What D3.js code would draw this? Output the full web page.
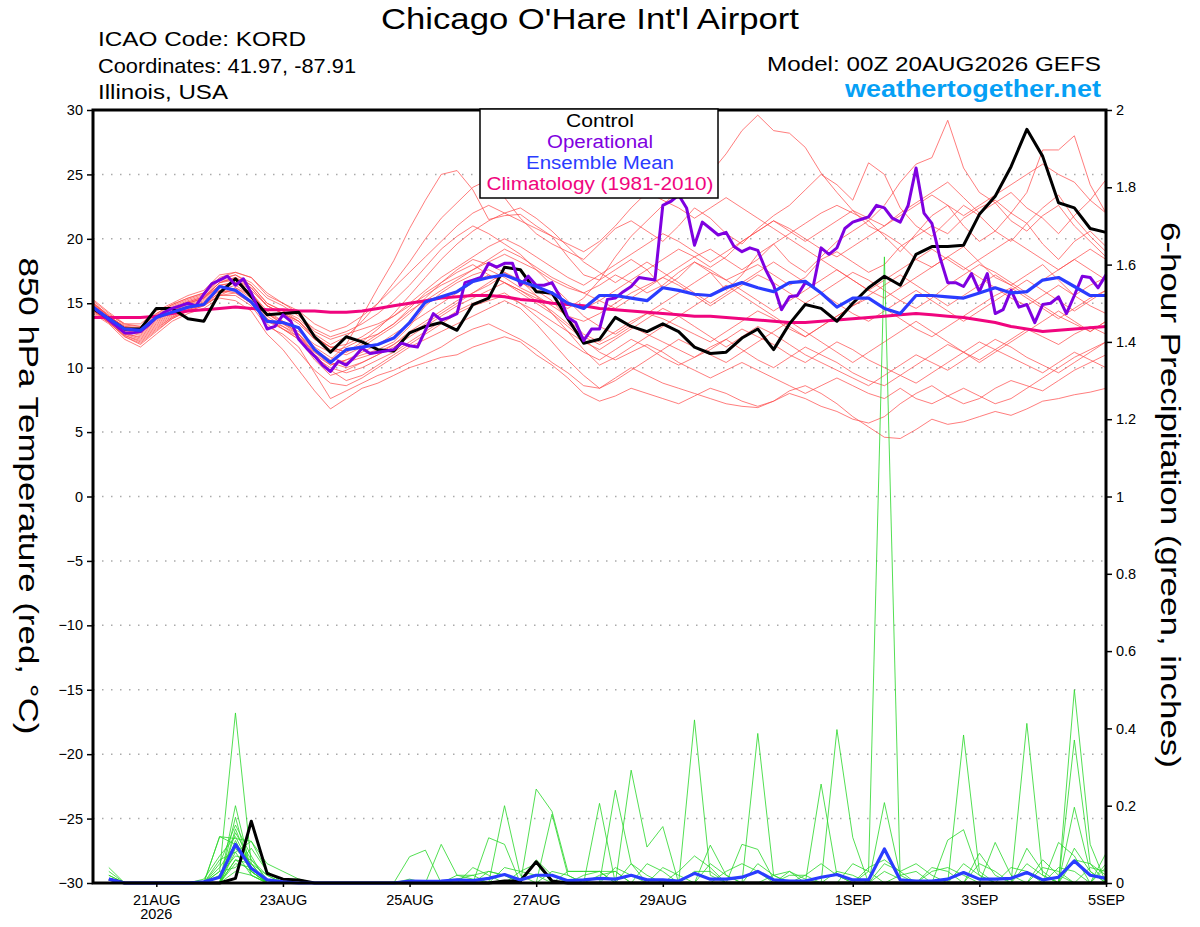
<!DOCTYPE html>
<html>
<head>
<meta charset="utf-8">
<script src="https://cdn.jsdelivr.net/npm/d3@7"></script>
<style>
body { margin: 0; background: #fff; }
svg { display: block; font-family: "Liberation Sans", Arial, Helvetica, sans-serif; }
</style>
</head>
<body>
<svg id="chart" width="1200" height="927"></svg>
<script>
// ---- data (6-hourly from 00Z 20AUG2026, operational is 3-hourly) ----
let tickHours = [24, 72, 120, 168, 216, 288, 336, 384]
let tickLabels = ['21AUG', '23AUG', '25AUG', '27AUG', '29AUG', '1SEP', '3SEP', '5SEP']
let tempTicks = [-30, -25, -20, -15, -10, -5, 0, 5, 10, 15, 20, 25, 30]
let precipTicks = [0, 0.2, 0.4, 0.6, 0.8, 1, 1.2, 1.4, 1.6, 1.8, 2]

let controlTemp = [14.6,13.8,13.0,13.0,14.6,14.6,13.8,13.6,15.8,16.9,15.5,14.1,14.2,14.3,12.4,11.2,12.4,12.0,11.4,11.3,
  12.7,13.2,13.5,12.9,14.9,15.4,17.8,17.6,15.9,15.8,13.8,11.9,12.2,13.9,13.2,12.8,13.4,12.8,11.6,11.1,
  11.2,12.3,13.0,11.4,13.4,14.9,14.6,13.6,15.0,16.2,17.1,16.4,18.8,19.4,19.4,19.5,21.9,23.3,25.6,28.5,
  26.4,22.8,22.4,20.8,20.5]

let operationalTemp = [14.7,14.2,13.7,13.2,12.7,12.7,12.8,13.3,13.9,14.3,14.6,14.8,15.0,14.8,15.7,16.5,16.8,17.1,16.4,16.9,
  15.8,14.4,13.0,13.2,14.1,13.6,12.2,11.5,10.9,10.2,9.7,10.5,10.2,10.8,11.5,11.1,11.2,11.3,11.4,11.9,
  11.7,11.6,12.9,14.2,13.7,13.9,14.2,16.6,16.8,17.0,18.1,17.8,18.1,18.1,16.4,17.1,16.4,16.4,16.6,15.5,
  13.9,13.5,12.1,13.0,13.0,15.3,15.4,15.9,16.3,17.0,16.9,16.8,22.6,22.9,23.4,22.4,19.5,21.3,20.8,20.3,
  20.5,19.4,19.0,19.3,19.1,17.6,16.4,14.5,15.5,15.6,16.6,16.3,19.3,18.8,19.3,20.8,21.3,21.5,21.7,22.6,
  22.4,21.6,21.3,22.6,25.5,22.0,21.2,18.6,16.6,16.6,16.3,17.3,15.9,17.3,14.2,14.5,16.0,14.7,14.9,13.5,
  14.9,15.0,15.5,14.2,15.6,17.1,17.0,16.2,17.2]

let meanTemp = [14.7,13.8,13.0,12.9,13.9,14.3,14.7,14.9,16.3,16.0,15.1,13.6,13.5,13.1,11.4,10.4,11.4,11.6,11.8,12.3,
  13.5,15.1,15.5,15.9,16.7,17.0,17.2,16.7,16.3,15.8,15.0,14.6,15.6,15.6,15.4,15.2,16.2,16.0,15.7,15.6,
  16.2,16.6,16.2,15.9,16.6,16.7,15.8,14.7,15.4,15.4,14.6,14.2,15.6,15.6,15.5,15.4,15.8,16.2,15.8,15.9,
  16.8,17.0,16.3,15.6,15.6]

let climatologyTemp = [13.9,13.9,13.9,13.9,14.0,14.2,14.4,14.5,14.6,14.7,14.6,14.5,14.5,14.4,14.4,14.3,14.3,14.4,14.6,14.8,
  15.0,15.2,15.4,15.5,15.6,15.6,15.5,15.3,15.2,15.0,14.9,14.8,14.6,14.5,14.4,14.3,14.2,14.1,14.0,14.0,
  13.9,13.8,13.7,13.6,13.5,13.5,13.6,13.7,13.8,13.9,14.0,14.1,14.2,14.1,14.0,13.9,13.7,13.5,13.2,13.0,
  12.8,12.9,13.0,13.1,13.2]

let memberTemps = [
  [14.8,13.9,13.0,12.8,13.8,14.4,15.0,15.4,16.4,16.6,15.8,14.4,13.6,12.6, 11.4,10.6,11.8,14.0,16.2,18.3,20.8,23.0,25.0,25.3,23.8,21.5,21.8,21.9,21.0,20.2,18.6, 17.2,16.8,17.6,18.4,17.6,16.2,17.0,18.2,17.4,16.0,17.2,18.8,19.6,18.2,17.4,18.6,19.8, 20.6,21.4,20.2,19.0,20.4,21.8,22.6,21.0,19.8,20.6,22.0,21.2,19.6,18.4,19.8,20.6,19.4],
  [14.6,13.6,12.6,12.4,13.4,14.2,14.6,15.0,16.0,16.4,15.6,14.2,13.4,12.8, 11.8,11.2,11.6,12.2,12.6,13.4,14.6,15.8,16.6,17.4,18.0,17.2,16.6,16.0,15.4,15.0,14.6, 15.4,16.8,18.6,20.2,21.4,22.6,23.8,24.6,25.1,26.6,28.4,29.6,28.4,28.2,27.1,25.1,23.6, 22.2,21.0,20.4,19.6,18.4,17.8,18.6,19.4,18.2,17.0,16.4,17.2,18.0,16.8,15.6,16.4,17.0],
  [14.9,13.9,12.9,12.6,13.6,14.4,15.0,15.4,16.4,16.0,15.0,13.6,13.2,12.6, 11.0,10.2,10.6,11.0,11.4,12.0,13.2,14.8,15.8,16.6,17.2,17.6,17.0,16.2,15.6,14.8,14.0, 13.6,14.2,15.0,15.8,16.4,17.0,17.8,18.6,19.2,18.4,17.6,18.4,19.6,20.4,21.2,22.0,22.6, 22.0,21.4,22.6,24.4,25.8,26.3,29.2,25.5,23.6,22.8,21.4,20.6,21.8,22.6,21.0,19.8,18.6],
  [15.0,14.1,13.4,13.4,14.4,15.0,15.6,16.0,17.2,17.4,17.0,15.8,15.0,14.2, 12.8,12.2,12.6,13.0,13.4,14.0,14.8,15.6,16.4,17.0,17.6,18.4,19.2,18.6,17.8,17.0,16.4, 15.8,16.4,17.2,16.6,15.8,16.4,17.4,18.2,17.6,16.8,17.4,18.0,17.2,16.4,17.0,18.4,19.0, 18.2,17.4,18.0,19.4,20.2,21.0,20.4,21.6,22.4,23.0,22.0,23.6,26.9,26.9,28.0,24.2,22.0],
  [14.2,13.4,12.2,11.6,12.6,13.6,14.2,14.6,15.4,15.2,14.4,12.6,11.4,9.8, 8.2,6.8,7.6,8.4,8.8,9.4,10.0,10.4,10.8,11.0,11.6,12.0,12.4,12.0,11.0,10.2,9.2, 8.0,7.4,7.8,8.4,8.0,7.6,7.2,7.8,8.4,8.0,7.4,7.0,7.4,8.2,8.6,8.0,7.2, 6.2,5.4,4.6,4.5,5.2,6.0,5.6,5.8,6.2,6.6,6.3,6.8,7.4,7.6,7.9,8.1,8.4],
  [14.5,13.5,12.4,11.9,12.9,13.8,14.4,14.8,15.6,15.6,14.8,13.2,12.6,11.6, 9.6,7.6,8.2,8.8,9.4,9.8,10.4,11.0,11.6,12.4,13.0,13.4,12.8,12.2,11.4,10.4,9.6, 8.6,8.4,9.2,10.0,9.4,8.8,8.4,8.0,7.6,7.2,7.0,6.9,7.4,8.0,7.6,7.0,6.6, 6.0,5.7,6.2,7.2,8.0,8.6,7.8,7.2,7.6,8.4,9.0,8.6,8.2,9.0,9.8,10.4,11.0],
  [15.1,14.0,13.1,12.9,13.9,14.6,15.1,15.5,16.6,17.0,16.4,15.0,14.4,13.8, 12.6,11.8,12.4,13.6,15.0,16.6,18.2,20.0,21.6,22.8,24.0,24.6,23.2,21.6,20.4,19.6,19.0, 18.4,19.6,20.8,21.4,20.6,19.8,21.0,22.4,21.6,20.4,19.6,20.8,21.8,22.6,23.8,25.0,24.2, 23.0,25.9,25.0,22.4,21.0,20.2,21.4,22.6,21.8,20.6,19.8,21.2,22.4,23.4,21.6,20.2,19.0],
  [14.7,13.8,12.8,12.5,13.5,14.3,14.8,15.2,16.2,16.6,15.8,14.2,13.6,13.0, 11.6,10.8,10.4,10.8,11.2,11.8,12.8,13.6,14.4,15.2,15.8,16.4,17.2,16.8,16.0,15.2,13.8, 12.6,12.0,12.8,13.6,14.2,13.8,13.2,12.6,12.0,12.8,13.6,14.4,13.8,13.0,12.4,13.2,14.0, 14.8,15.4,14.6,13.8,13.0,12.4,13.2,14.0,14.8,15.6,16.2,15.4,14.6,13.8,14.6,15.4,16.0],
  [15.3,14.3,13.4,13.2,14.2,14.9,15.4,15.8,16.8,16.8,16.0,14.8,14.2,13.6, 12.2,11.4,11.0,11.6,12.4,13.2,14.2,15.4,16.6,17.6,18.4,18.0,17.4,16.6,16.0,15.6,15.0, 14.6,15.2,16.0,16.8,17.6,18.4,19.2,18.6,17.8,18.6,19.8,20.6,21.4,20.8,20.0,19.2,18.6, 19.4,20.2,21.0,22.0,22.8,23.6,24.4,23.2,22.0,22.8,23.6,22.4,21.6,20.4,21.8,23.0,24.6],
  [14.4,13.6,12.6,12.2,13.2,14.0,14.6,15.0,15.8,16.0,15.2,13.6,13.0,12.2, 10.8,10.0,9.6,10.0,10.6,11.2,12.0,12.8,13.6,14.4,15.0,15.4,15.8,15.0,14.0,13.0,12.0, 11.2,10.6,11.4,12.2,11.6,10.8,10.2,10.8,11.6,12.2,11.4,10.6,10.0,10.8,11.6,11.0,10.4, 9.6,9.0,8.6,9.4,10.2,11.0,11.8,11.2,10.6,11.4,12.2,13.0,12.4,11.8,12.6,13.2,12.6],
  [14.8,13.8,13.0,12.9,13.9,14.5,15.0,15.4,16.6,16.8,16.2,14.8,14.2,13.4, 12.2,11.6,11.2,11.8,12.6,13.4,14.4,15.2,16.0,16.8,17.6,18.2,18.8,18.2,17.6,16.8,16.2, 15.8,15.2,14.6,15.4,16.2,17.0,16.4,15.6,14.8,15.6,16.4,17.2,16.6,15.8,15.0,15.8,16.6, 17.4,16.8,16.0,15.2,14.6,15.4,16.4,17.2,18.0,17.4,16.6,15.8,16.8,17.6,18.4,17.6,16.8],
  [14.3,13.5,12.4,11.8,12.8,13.8,14.4,14.8,15.6,16.2,15.6,14.0,13.2,12.4, 11.0,9.8,9.0,9.4,10.2,11.0,11.8,12.6,13.4,14.2,14.8,15.2,15.6,15.0,14.4,13.6,12.8, 12.0,11.4,12.2,13.0,13.8,14.6,14.0,13.2,12.4,11.6,12.4,13.2,12.6,11.8,11.0,10.4,9.8, 9.2,8.6,9.4,10.2,11.0,10.4,9.8,10.6,11.4,12.2,11.6,10.8,10.2,9.6,10.4,11.2,12.0],
  [15.0,14.0,13.2,13.1,14.1,14.8,15.3,15.7,16.9,17.2,16.6,15.4,14.8,14.0, 13.0,12.4,12.8,13.4,14.2,15.2,16.4,17.8,19.2,20.2,21.0,20.4,19.6,18.8,17.6,16.4,15.2, 14.0,13.2,12.6,13.4,14.2,15.0,15.8,16.6,17.4,16.8,16.0,15.2,14.4,15.2,16.0,16.8,17.6, 16.8,16.0,15.4,16.2,17.0,17.8,18.6,17.8,17.0,16.2,15.4,14.8,15.6,16.4,15.6,14.8,14.2],
  [14.6,13.7,12.7,12.3,13.3,14.1,14.7,15.1,16.0,15.8,15.0,13.8,13.0,12.4, 11.2,10.4,10.0,10.4,11.0,11.6,12.4,13.2,14.0,14.8,15.4,16.0,16.6,16.0,15.2,14.4,13.4, 12.4,11.8,12.4,13.2,12.6,12.0,11.4,10.8,11.4,12.2,13.0,12.4,11.8,11.0,10.4,11.2,12.0, 11.4,10.6,10.0,9.4,8.8,9.6,10.4,11.2,12.0,11.4,10.8,10.2,9.6,10.4,11.2,10.6,10.0],
  [15.0,14.0,13.2,13.0,14.0,14.7,15.2,15.6,16.8,17.2,16.4,15.0,14.4,13.6, 12.4,11.6,11.8,12.4,13.2,14.0,15.0,16.0,17.0,17.8,18.6,19.4,20.0,19.4,18.6,17.8,17.0, 16.4,17.2,18.0,18.8,19.6,20.4,19.8,19.0,18.2,19.0,19.8,20.6,21.4,20.6,19.8,20.6,21.4, 22.2,21.6,21.0,21.8,22.6,23.4,22.6,21.8,22.6,23.4,24.2,25.0,25.8,25.0,24.4,23.0,22.0],
  [14.5,13.5,12.5,12.1,13.1,13.9,14.5,14.9,15.8,16.2,15.4,13.8,13.0,12.2, 10.6,9.4,9.8,10.4,11.0,11.8,12.6,13.4,14.2,15.0,15.8,16.6,17.4,16.8,15.6,14.2,12.8, 11.4,10.2,10.8,11.6,12.4,13.2,14.0,14.8,15.6,16.4,15.6,14.8,14.0,13.2,12.4,13.2,14.0, 14.8,15.6,16.4,17.2,16.4,15.6,14.8,15.6,16.4,17.2,16.4,15.6,14.8,14.0,13.4,12.8,13.6],
  [15.2,14.2,13.3,13.2,14.2,14.9,15.4,15.8,17.0,17.4,17.0,15.6,15.0,14.4, 13.4,12.8,13.2,14.0,15.0,16.2,17.4,18.6,19.8,21.0,22.0,22.6,22.0,21.4,20.8,20.2,19.6, 19.0,19.8,21.0,22.4,23.6,23.0,22.4,21.6,22.4,23.2,22.4,21.6,20.8,20.0,19.2,18.4,17.6, 16.8,16.0,16.8,17.6,18.4,19.2,18.4,17.6,18.4,19.2,20.0,19.2,18.4,17.6,18.4,19.2,18.4],
  [14.7,13.8,12.9,12.7,13.7,14.4,14.9,15.3,16.4,16.6,15.8,14.2,13.4,12.6, 11.2,10.2,10.6,11.2,11.8,12.6,13.4,14.2,15.0,15.8,16.6,17.2,16.6,15.8,15.0,14.2,13.2, 12.2,11.2,10.6,11.2,11.8,11.2,10.4,9.8,9.2,9.8,10.4,9.8,9.2,8.6,8.0,8.6,9.2, 8.6,8.0,7.6,8.4,7.6,7.2,7.8,8.4,7.8,7.2,7.6,8.4,9.2,10.0,10.8,11.4,12.0],
  [14.9,14.0,13.1,12.9,13.9,14.6,15.1,15.5,16.6,17.0,16.2,14.8,14.2,13.6, 12.4,11.6,11.2,12.0,13.0,14.2,15.6,17.0,18.4,19.6,20.6,21.4,22.0,22.4,21.6,20.6,19.4, 18.2,17.4,16.6,17.4,18.2,17.4,16.6,15.8,15.0,15.8,16.6,17.4,18.2,17.4,16.6,15.8,15.0, 14.2,13.6,14.4,15.2,16.0,15.2,14.4,13.6,14.4,15.2,16.0,16.8,16.0,15.2,14.4,15.2,16.0],
  [14.4,13.5,12.5,12.0,13.0,13.9,14.5,14.9,15.6,15.8,15.0,13.4,12.4,11.2, 9.8,8.8,8.6,9.2,10.0,10.8,11.6,12.2,12.8,13.4,14.0,14.6,15.2,14.6,13.4,12.0,10.6, 9.4,8.4,9.0,9.8,10.6,11.4,12.2,11.6,11.0,10.4,11.2,12.0,12.8,13.6,12.8,12.0,11.2, 10.4,11.2,12.0,12.8,13.6,12.8,12.0,11.2,10.4,11.2,12.0,12.8,13.6,14.4,13.6,12.8,13.6]
]

// 6-hour precipitation, first value is for 06Z 20AUG
let controlPrecip = [.01,0,0,0,0,0,0,0, .012,.16,.025,.01,.008,0,0,0, 0,0,0,0,0,0,0,0, 0,.005,.005,.055,.005,0,0,0,
  0,0,0,0,0,0,0,0, 0,0,0,0,0,0,0,0, 0,0,0,0,0,0,0,0, 0,0,0,0,0,0,0,0]

let meanPrecip = [.01,0,0,0,0,0,.003,.015, .10,.038,.008,.003,0,0,0,0, 0,0,0,.005,.004,.005,.008,.006, .012,.022,.008,.02,.02,.006,.008,.012,
  .01,.02,.008,.008,.005,.025,.01,.01, .015,.03,.008,.005,.005,.015,.022,.008, .008,.088,.008,.005,.005,.01,.027,.01, .01,.012,.027,.008,.015,.057,.02,.012]

let memberPrecips = [
  [.04,0,0,0,0,0,0,.03, .44,.05,0,0,0,0,0,0, 0,0,0,0,0,0,0,0, 0,0,0,0,0,0,0,0, .24,.05,0,0,0,0,0,0, 0,0,0,0,0,0,0,0, 0,0,0,0,0,0,0,0, 0,0,0,0,0,.5,.1,0],
  [.03,0,0,0,0,0,0,0, .2,.03,0,0,0,0,0,0, 0,0,0,0,0,0,0,0, 0,0,0,.243,.185,.03,.03,.03, 0,0,0,0,0,.422,.02,0, 0,0,0,0,0,0,0,0, 0,0,0,0,0,0,.383,.03, 0,0,0,0,0,0,0,0],
  [.02,0,0,0,0,0,0,.12, .115,.108,.05,.03,.01,0,0,0, 0,0,0,0,0,0,0,0, 0,0,0,0,0,0,0,0, 0,0,0,0,0,0,0,0, 0,.387,.02,0,0,0,0,0, 0,0,0,0,0,0,0,0, 0,0,.413,.02,0,0,0,0],
  [0,0,0,0,0,0,0,0, .17,.02,0,0,0,0,0,0, 0,0,0,0,0,0,0,0, 0,.2,.02,0,0,0,0,0, 0,.292,.093,.146,0,0,0,0, 0,0,0,0,0,0,.397,.118, 0,0,0,0,0,0,0,0, 0,0,0,0,0,0,0,0],
  [0,0,0,0,0,0,0,.05, .15,.07,0,0,0,0,0,0, 0,0,0,0,0,0,0,0, 0,0,0,0,.178,.02,0,.206, 0,0,0,0,0,0,0,0, 0,0,0,0,0,0,0,0, .03,1.62,.01,0,0,0,0,0, 0,0,0,0,0,.37,.05,0],
  [0,0,0,0,0,0,.01,.07, .12,.04,0,0,0,0,0,0, 0,0,0,0,0,0,0,0, .117,.1,0,0,0,0,0,0, 0,0,0,0,0,0,0,0, 0,0,0,0,0,.256,.02,0, 0,0,0,0,0,0,0,0, 0,0,0,0,0,0,0,.077],
  [0,0,0,0,0,0,0,.12, .1,.03,0,0,0,0,0,0, 0,0,0,.068,.085,0,0,0, 0,0,0,0,0,0,0,0, 0,0,0,0,0,0,.098,.02, 0,0,0,0,0,0,0,0, 0,.208,.02,0,0,0,0,0, 0,0,0,0,0,.196,.03,0],
  [0,0,0,0,0,0,0,0, .08,.108,.03,0,0,0,0,0, 0,0,0,0,0,.1,.02,.02, 0,0,0,0,0,0,0,0, 0,0,0,0,0,0,0,0, .1,.087,.01,0,0,0,0,0, 0,0,0,0,0,.111,.138,.02, 0,0,0,0,0,0,0,0],
  [0,0,0,0,0,0,0,0, .06,.05,.02,0,0,0,0,0, 0,0,0,0,0,0,0,.04, .02,0,0,0,0,0,0,0, 0,0,.05,.03,0,0,0,0, 0,0,0,0,0,0,0,0, 0,0,0,0,0,0,0,0, .105,.02,0,0,.105,.07,0,0],
  [0,0,0,0,0,0,0,.04, .1,.05,0,0,0,0,0,0, 0,0,0,0,0,0,0,0, 0,0,0,0,0,.03,.03,.03, .03,0,0,0,0,0,0,0, 0,0,0,0,0,0,0,0, 0,0,0,0,0,0,0,.077, .02,0,.09,.03,0,0,0,0],
  [0,0,0,0,0,0,0,0, .09,.04,0,0,0,0,0,0, 0,0,0,0,0,0,0,0, 0,.04,.03,.05,0,0,0,0, 0,0,0,0,0,0,0,0, 0,0,0,.03,.01,0,0,0, 0,.05,.03,.05,.02,0,0,0, 0,0,0,0,0,0,0,.05],
  [0,0,0,0,0,0,0,.02, .07,.06,.01,0,0,0,0,0, 0,0,0,0,0,0,0,0, 0,0,0,0,0,0,0,0, 0,0,0,0,.03,.07,.04,0, 0,0,0,0,0,0,0,.05, .03,0,0,0,0,0,0,0, 0,0,0,.04,.03,0,0,0],
  [0,0,0,0,0,0,0,0, .05,.04,0,0,0,0,0,0, 0,0,0,0,0,0,0,0, 0,0,.03,.02,0,0,0,0, 0,0,0,0,0,0,0,.03, .05,.03,0,0,0,0,0,0, 0,0,0,0,.03,.04,.02,0, 0,0,0,0,0,0,.04,.03],
  [0,0,0,0,0,0,0,0, .13,.06,.02,0,0,0,0,0, 0,0,0,0,0,0,.01,.02, .03,.02,0,0,0,0,0,0, 0,.05,.02,0,0,0,0,0, 0,0,0,0,.02,.05,.02,0, 0,0,0,0,0,0,0,0, 0,.04,.03,0,0,0,0,0],
  [0,0,0,0,0,0,0,.03, .04,.09,.03,0,0,0,0,0, 0,0,0,0,0,0,0,0, 0,0,0,0,0,0,0,.02, .03,0,0,0,0,0,0,0, 0,0,.02,.03,0,0,0,0, 0,0,.02,.03,0,0,0,0, 0,0,0,0,0,.06,.05,.02],
  [0,0,0,0,0,0,0,0, .06,.03,0,0,0,0,0,0, 0,0,0,0,0,0,0,0, 0,0,0,0,.03,.02,0,0, 0,0,0,.04,.02,0,0,0, 0,0,0,0,0,0,0,0, .04,.06,.03,0,0,0,0,.05, .03,0,0,0,0,0,0,0],
  [.02,0,0,0,0,0,0,0, .11,.03,0,0,0,0,0,0, 0,0,0,0,0,0,0,0, .03,.02,0,0,0,0,0,0, 0,0,0,0,0,.03,.03,0, 0,0,0,0,0,0,.03,.02, 0,0,0,0,0,0,0,0, 0,0,0,.06,.02,0,0,0],
  [0,0,0,0,0,0,0,.06, .08,.02,0,0,0,0,0,0, 0,0,0,.01,0,0,0,0, 0,0,0,.06,.02,0,0,0, 0,0,0,0,0,0,0,0, 0,.05,.02,0,0,0,0,0, 0,0,0,0,0,0,.05,.02, 0,0,0,0,0,.09,.03,0],
  [0,0,0,0,0,0,0,0, .14,.04,0,0,0,0,0,0, 0,0,0,0,0,0,0,0, 0,0,0,0,0,0,.02,.03, 0,0,0,0,0,0,.05,.02, 0,0,0,0,0,0,0,0, 0,.03,.01,0,0,0,0,0, 0,0,.05,.02,0,0,0,.04],
  [0,0,0,0,0,0,0,0, .03,.02,0,0,0,0,0,0, 0,0,0,0,0,0,.02,.01, 0,0,0,0,0,0,0,0, .04,.02,0,0,0,0,0,0, 0,0,0,.02,.02,0,0,0, 0,0,0,0,.04,.03,0,0, 0,0,0,0,.04,.03,0,0]
]

let legendItems = ['Control', 'Operational', 'Ensemble Mean', 'Climatology (1981-2010)']
let legendColors = ['#000000', '#7f00e0', '#2a3cff', '#f0057e']

// ---- layout ----
let svg = d3.select('#chart')
let plotLeft = 93, plotRight = 1106, plotTop = 110, plotBottom = 883

let x = d3.scaleLinear().domain([0, 384]).range([plotLeft, plotRight])
let yT = d3.scaleLinear().domain([-30, 30]).range([plotBottom, plotTop])
let yP = d3.scaleLinear().domain([0, 2]).range([plotBottom, plotTop])

let line6 = d3.line().x((d, i) => x(i * 6)).y(d => yT(d))
let line3 = d3.line().x((d, i) => x(i * 3)).y(d => yT(d))
let lineP = d3.line().x((d, i) => x((i + 1) * 6)).y(d => yP(d))

// dotted grid on temperature ticks
svg.append('g')
  .selectAll('line')
  .data(tempTicks.filter(d => d > -30 && d < 30))
  .enter()
  .append('line')
  .attr('x1', plotLeft).attr('x2', plotRight)
  .attr('y1', d => yT(d)).attr('y2', d => yT(d))
  .attr('stroke', '#aaaaaa')
  .attr('stroke-width', 1.5)
  .attr('stroke-dasharray', '1.5,7.5')

// ensemble members
svg.append('g')
  .selectAll('path')
  .data(memberTemps)
  .enter()
  .append('path')
  .attr('d', line6)
  .attr('fill', 'none')
  .attr('stroke', '#ff4a4a')
  .attr('stroke-opacity', 0.8)
  .attr('stroke-width', 0.9)

svg.append('g')
  .selectAll('path')
  .data(memberPrecips)
  .enter()
  .append('path')
  .attr('d', lineP)
  .attr('fill', 'none')
  .attr('stroke', '#2ad82a')
  .attr('stroke-opacity', 0.9)
  .attr('stroke-width', 0.9)

function thick(path, color, w) {
  svg.append('path')
    .attr('d', path)
    .attr('fill', 'none')
    .attr('stroke', color)
    .attr('stroke-width', w)
    .attr('stroke-linejoin', 'round')
}

thick(line6(climatologyTemp), legendColors[3], 3)
thick(line6(controlTemp), legendColors[0], 3)
thick(line3(operationalTemp), legendColors[1], 3)
thick(line6(meanTemp), legendColors[2], 3.2)
thick(lineP(controlPrecip), legendColors[0], 3)
thick(lineP(meanPrecip), legendColors[2], 3.2)

// axes
let axisL = d3.axisLeft(yT).tickValues(tempTicks).tickSize(6).tickPadding(4)
let axisR = d3.axisRight(yP).tickValues(precipTicks).tickSize(6).tickPadding(4)
  .tickFormat(d => String(+d.toFixed(1)))
let axisB = d3.axisBottom(x).tickValues(tickHours).tickSize(4).tickPadding(8)
  .tickFormat((d, i) => tickLabels[i])

function styleAxis(g) {
  g.select('.domain').remove()
  g.selectAll('.tick line').attr('stroke', '#000').attr('stroke-width', 1.5)
  g.selectAll('.tick text')
    .attr('fill', '#000')
    .style('font-size', '14.5px')
    .style('font-family', '"Liberation Sans", Arial, sans-serif')
}

svg.append('g').attr('transform', translate(plotLeft, 0)).call(axisL).call(styleAxis)
svg.append('g').attr('transform', translate(plotRight, 0)).call(axisR).call(styleAxis)
let xg = svg.append('g').attr('transform', translate(0, plotBottom)).call(axisB).call(styleAxis)
xg.append('text')
  .attr('x', x(tickHours[0]))
  .attr('y', 36)
  .attr('text-anchor', 'middle')
  .attr('fill', '#000')
  .style('font-size', '14.5px')
  .text('2026')

svg.append('rect')
  .attr('x', plotLeft).attr('y', plotTop)
  .attr('width', plotRight - plotLeft).attr('height', plotBottom - plotTop)
  .attr('fill', 'none')
  .attr('stroke', '#000')
  .attr('stroke-width', 3)

// legend
let legend = svg.append('g')
legend.append('rect')
  .attr('x', 480).attr('y', 109).attr('width', 238).attr('height', 89)
  .attr('fill', '#fff').attr('stroke', '#000').attr('stroke-width', 1.5)
let legendWidths = [68, 106, 148, 227]
legend.selectAll('text')
  .data(legendItems)
  .enter()
  .append('text')
  .attr('x', 600)
  .attr('y', (d, i) => 127 + i * 21)
  .attr('text-anchor', 'middle')
  .attr('fill', (d, i) => legendColors[i])
  .attr('textLength', (d, i) => legendWidths[i])
  .attr('lengthAdjust', 'spacingAndGlyphs')
  .style('font-size', '18px')
  .text(d => d)

// header texts
function label(txt, xp, yp, size, anchor, width, opts) {
  let t = svg.append('text')
    .attr('x', xp).attr('y', yp)
    .attr('text-anchor', anchor)
    .attr('textLength', width)
    .attr('lengthAdjust', 'spacingAndGlyphs')
    .style('font-size', size + 'px')
    .attr('fill', (opts && opts.fill) || '#000')
    .text(txt)
  if (opts && opts.bold) t.style('font-weight', 'bold')
  if (opts && opts.rotate) t.attr('transform', 'rotate(90,' + xp + ',' + yp + ')')
  return t
}

label("Chicago O'Hare Int'l Airport", 590, 29, 30, 'middle', 418)
label('ICAO Code: KORD', 98, 46, 21, 'start', 208)
label('Coordinates: 41.97, -87.91', 98, 73, 21, 'start', 258)
label('Illinois, USA', 98, 99, 21, 'start', 130)
label('Model: 00Z 20AUG2026 GEFS', 1101, 71, 21, 'end', 334)
label('weathertogether.net', 1101, 97, 23, 'end', 256, { bold: true, fill: '#06a0f5' })
label('850 hPa Temperature (red, \u00B0C)', 19, 496, 28, 'middle', 477, { rotate: true })
label('6-hour Precipitation (green, inches)', 1161, 495, 28, 'middle', 546, { rotate: true })

function translate(a, b) {
  return 'translate(' + a + ',' + b + ')'
}
</script>
</body>
</html>
